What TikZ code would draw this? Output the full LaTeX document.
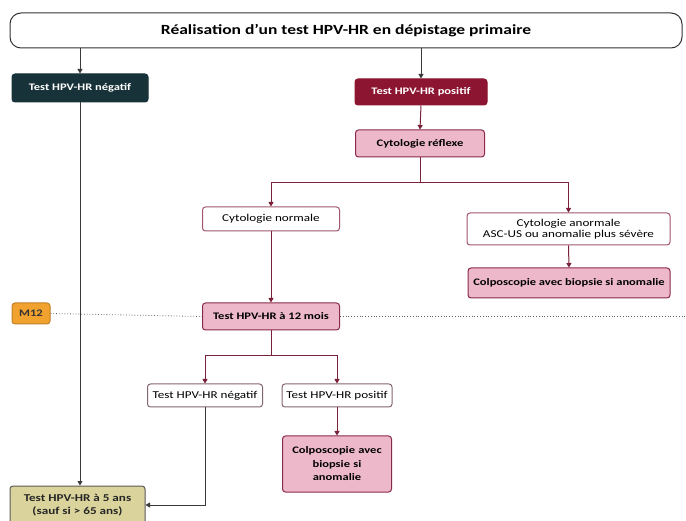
\documentclass[tikz,border=0pt]{standalone}
\usepackage{fontspec}
\setmainfont{Carlito}[FakeStretch=1.25]
\usetikzlibrary{arrows.meta}
\definecolor{darkteal}{HTML}{173238}
\definecolor{darkred}{HTML}{8C1532}
\definecolor{pinkfill}{HTML}{EDB8C9}
\definecolor{pinkdraw}{HTML}{8A2A4A}
\definecolor{linered}{HTML}{7A2038}
\definecolor{linegray}{HTML}{3A3A3A}
\definecolor{orangefill}{HTML}{F0A12E}
\definecolor{olivefill}{HTML}{DAD49C}
\begin{document}
\begin{tikzpicture}[x=1pt,y=-1pt,
  box/.style={rounded corners=3pt,line width=1pt,align=center,inner sep=1pt,font=\fontsize{10.5}{12}\selectfont},
  pinkbox/.style={box,fill=pinkfill,draw=pinkdraw,font=\fontsize{10}{13.5}\selectfont\bfseries},
  whitebox/.style={box,fill=white,draw=pinkdraw!80},
  graybox/.style={box,fill=white,draw=gray!70!pinkdraw},
  redarrow/.style={draw=linered,line width=1pt,-{Triangle[length=4.5pt,width=5pt]}},
  grayarrow/.style={draw=linegray,line width=0.9pt,-{Triangle[length=4.5pt,width=5pt]}},
  redline/.style={draw=linered,line width=1pt},
  grayline/.style={draw=linegray,line width=0.9pt},
  dotline/.style={draw=linegray!80,line width=0.8pt,dotted}]
\useasboundingbox (0,0) rectangle (686,521);
\fill[white] (0,0) rectangle (686,521);

\node[box,draw=black!80,fill=white,rounded corners=11pt,minimum width=672pt,minimum height=35pt,font=\fontsize{14}{16}\selectfont\bfseries] (title) at (346,30.5) {Réalisation d’un test HPV-HR en dépistage primaire};

\node[box,fill=darkteal,draw=darkteal,text=white,minimum width=136pt,minimum height=28pt,font=\fontsize{10}{12}\selectfont\bfseries] (neg) at (80,88) {Test HPV-HR négatif};
\node[box,fill=darkred,draw=darkred,text=white,minimum width=132pt,minimum height=26pt,font=\fontsize{10}{12}\selectfont\bfseries] (pos) at (421,92) {Test HPV-HR positif};

\node[pinkbox,minimum width=129pt,minimum height=27pt] (refl) at (420,143.5) {Cytologie réflexe};
\node[whitebox,minimum width=137pt,minimum height=24pt] (norm) at (271,219) {Cytologie normale};
\node[whitebox,minimum width=203pt,minimum height=32pt,font=\fontsize{10.5}{11}\selectfont] (anorm) at (568.5,229) {Cytologie anormale\\ASC-US ou anomalie plus sévère};
\node[pinkbox,minimum width=202pt,minimum height=30pt] (colpoA) at (569,283) {Colposcopie avec biopsie si anomalie};

\node[pinkbox,minimum width=137pt,minimum height=27pt] (t12) at (271,316.5) {Test HPV-HR à 12 mois};
\node[box,fill=orangefill,draw=orangefill!80!black,minimum width=38pt,minimum height=21pt,font=\fontsize{10}{11}\selectfont\bfseries,text=black!80] (m12) at (31,313.5) {M12};

\node[graybox,minimum width=115pt,minimum height=23pt] (neg2) at (205,395.5) {Test HPV-HR négatif};
\node[graybox,minimum width=110pt,minimum height=23pt] (pos2) at (337,395.5) {Test HPV-HR positif};
\node[pinkbox,minimum width=109pt,minimum height=56pt,text width=100pt] (colpoB) at (337,464) {Colposcopie avec\\biopsie si\\anomalie};

\node[box,fill=olivefill,draw=black!65,minimum width=135pt,minimum height=38pt,font=\fontsize{10.5}{12.5}\selectfont\bfseries,text=black!85] (final) at (77.5,505) {Test HPV-HR à 5 ans\\(sauf si > 65 ans)};

\coordinate (s1) at (420,183);
\coordinate (s2) at (271,356);
\coordinate (edge) at (686,316.5);

\draw[grayarrow] (title.south -| neg.north) -- (neg.north);
\draw[grayarrow] (title.south -| pos.north) -- (pos.north);
\draw[redarrow] (pos.south) -- (refl.north);
\draw[grayarrow] (neg.south) -- (neg.south |- final.north);
\draw[redline] (refl.south) -- (s1);
\draw[redarrow] (s1) -| (norm.north);
\draw[redarrow] (s1) -| (anorm.north);
\draw[redarrow] (anorm.south) -- (colpoA.north);
\draw[redarrow] (norm.south) -- (t12.north);
\draw[redline] (t12.south) -- (s2);
\draw[redarrow] (s2) -| (neg2.north);
\draw[redarrow] (s2) -| (pos2.north);
\draw[redarrow] (pos2.south) -- (colpoB.north);
\draw[grayarrow] (neg2.south) |- (final.east);
\draw[dotline] (m12.east) -- (t12.west);
\draw[dotline] (t12.east) -- (edge);
\end{tikzpicture}
\end{document}
